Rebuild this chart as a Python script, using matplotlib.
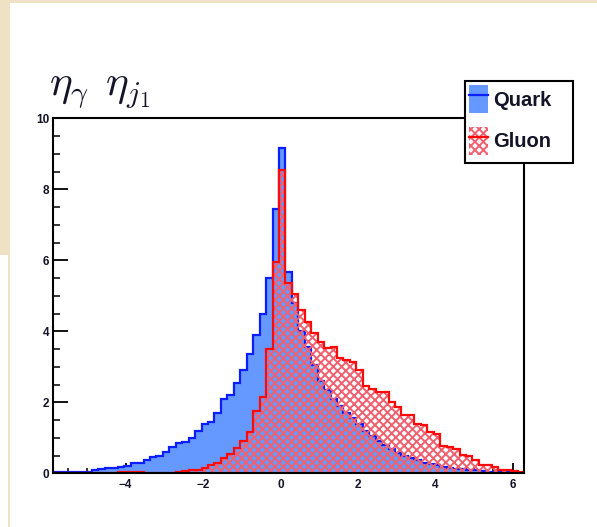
import matplotlib
matplotlib.use('Agg')
import matplotlib.pyplot as plt
import numpy as np
from matplotlib.patches import Patch, Rectangle
from matplotlib.lines import Line2D
from matplotlib.legend_handler import HandlerTuple
from matplotlib.ticker import MultipleLocator

# ---------------- data ----------------
x_range = (-5.87, 6.29)
n_bins = 73
quark = [0.03, 0.03, 0.04, 0.04, 0.05, 0.05, 0.10, 0.12, 0.15, 0.15,
         0.17, 0.20, 0.30, 0.30, 0.37, 0.46, 0.50, 0.60, 0.74, 0.84,
         0.88, 1.00, 1.19, 1.38, 1.45, 1.70, 2.08, 2.20, 2.55, 2.92,
         3.37, 3.90, 4.50, 5.50, 7.45, 9.15, 5.67, 4.80, 4.00, 3.55,
         3.05, 2.60, 2.35, 2.10, 1.90, 1.70, 1.55, 1.40, 1.20, 1.05,
         0.92, 0.80, 0.68, 0.58, 0.50, 0.42, 0.37, 0.30, 0.26, 0.22,
         0.18, 0.15, 0.13, 0.11, 0.09, 0.08, 0.06, 0.05, 0.05, 0.04,
         0.03, 0.02, 0.02]
gluon = [0.00, 0.00, 0.00, 0.00, 0.00, 0.00, 0.00, 0.00, 0.00, 0.00,
         0.05, 0.05, 0.05, 0.05, 0.02, 0.02, 0.02, 0.02, 0.02, 0.03,
         0.07, 0.08, 0.10, 0.15, 0.22, 0.28, 0.42, 0.55, 0.72, 0.90,
         1.15, 1.75, 2.15, 3.50, 5.95, 8.55, 5.35, 5.05, 4.60, 4.26,
         3.95, 3.70, 3.52, 3.55, 3.25, 3.20, 3.14, 2.90, 2.45, 2.38,
         2.30, 2.29, 2.00, 1.87, 1.65, 1.63, 1.38, 1.35, 1.16, 1.12,
         0.78, 0.75, 0.69, 0.52, 0.50, 0.37, 0.22, 0.22, 0.18, 0.10,
         0.10, 0.07, 0.03]
x_ticks = [-4, -2, 0, 2, 4, 6]
y_ticks = [0, 2, 4, 6, 8, 10]
series_labels = ['Quark', 'Gluon']
title = r'$\eta_{\gamma}\;\,\eta_{j_1}$'

# ---------------- style ----------------
plt.rcParams['mathtext.fontset'] = 'cm'
plt.rcParams['hatch.linewidth'] = 1.4
W, H = 597, 527
quark_fill = '#6699FF'
quark_line = '#0A1EFF'
gluon_line = '#FF0A0A'
gluon_hatch = '#F0606E'
text_col = '#141428'
beige = '#EFE2C4'

fig = plt.figure(figsize=(W / 100, H / 100), dpi=100, facecolor='white')

# beige slide background strips
fig.patches.append(Rectangle((0, 1 - 255 / H), 10 / W, 255 / H, transform=fig.transFigure,
                             facecolor=beige, edgecolor='none', zorder=-10))
fig.patches.append(Rectangle((8 / W, 0), 2 / W, 1, transform=fig.transFigure,
                             facecolor=beige, edgecolor='none', zorder=-10))
fig.patches.append(Rectangle((0, 1 - 3 / H), 1, 3 / H, transform=fig.transFigure,
                             facecolor=beige, edgecolor='none', zorder=-10))

left, right, top, bottom = 53.3, 524.0, 118.3, 473.3
ax = fig.add_axes([left / W, 1 - bottom / H, (right - left) / W, (bottom - top) / H])
ax.set_facecolor('white')

edges = np.linspace(x_range[0], x_range[1], n_bins + 1)

ax.stairs(quark, edges, fill=True, facecolor=quark_fill, edgecolor='none', zorder=2)
ax.stairs(quark, edges, fill=False, color=quark_line, linewidth=1.6, zorder=3)
ax.stairs(gluon, edges, fill=True, facecolor='none', edgecolor=gluon_hatch,
          hatch='xxxx', linewidth=0, zorder=4)
ax.stairs(gluon, edges, fill=False, color=gluon_line, linewidth=1.6, zorder=5)

ax.set_xlim(*x_range)
ax.set_ylim(0, 10)

ax.set_xticks(x_ticks)
ax.set_yticks(y_ticks)
ax.xaxis.set_minor_locator(MultipleLocator(0.5))
ax.yaxis.set_minor_locator(MultipleLocator(0.5))
ax.tick_params(axis='x', which='major', direction='in', length=7.5, width=1.3,
               top=False, pad=4, colors='black', labelcolor=text_col)
ax.tick_params(axis='x', which='minor', direction='in', length=3.8, width=1.1, top=False)
ax.tick_params(axis='y', which='major', direction='in', length=10.5, width=1.3,
               right=False, pad=3, colors='black', labelcolor=text_col)
ax.tick_params(axis='y', which='minor', direction='in', length=5.2, width=1.1, right=False)
for lab in ax.get_xticklabels() + ax.get_yticklabels():
    lab.set_fontfamily('Liberation Sans')
    lab.set_fontweight('bold')
    lab.set_fontsize(8.5)
for sp in ax.spines.values():
    sp.set_linewidth(1.5)
    sp.set_color('black')
    sp.set_zorder(6)

fig.text(49 / W, 1 - 96 / H, title, fontsize=31, color=text_col, ha='left', va='baseline')

# legend box (ROOT TLegend style, overlapping the frame corner)
lx0, lx1, ly0, ly1 = 465, 573, 81, 163
fig.patches.append(Rectangle((lx0 / W, 1 - ly1 / H), (lx1 - lx0) / W, (ly1 - ly0) / H,
                             transform=fig.transFigure, facecolor='white',
                             edgecolor='black', linewidth=1.5, zorder=4))

h_quark = (Patch(facecolor=quark_fill, edgecolor='none'),
           Line2D([], [], color=quark_line, linewidth=1.6))
h_gluon = (Patch(facecolor='white', edgecolor=gluon_hatch, hatch='xxxx', linewidth=0),
           Line2D([], [], color=gluon_line, linewidth=1.6))
leg = fig.legend([h_quark, h_gluon], series_labels,
                 handler_map={tuple: HandlerTuple(ndivide=1, pad=0)},
                 loc='upper left', bbox_to_anchor=(469 / W, 1 - 85 / H),
                 frameon=False, borderpad=0.0, borderaxespad=0,
                 handlelength=0.95, handleheight=1.8, handletextpad=0.25,
                 labelspacing=0.65,
                 prop={'family': 'Liberation Sans', 'weight': 'bold', 'size': 14.5})
leg.set_zorder(5)
for t in leg.get_texts():
    t.set_color(text_col)

fig.savefig('out.png', dpi=100, facecolor='white')
